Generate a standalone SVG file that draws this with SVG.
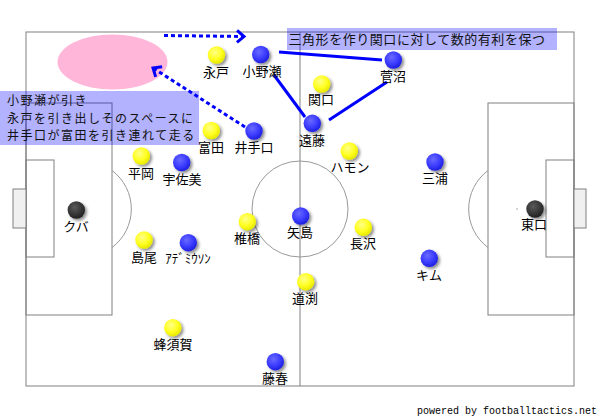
<svg xmlns="http://www.w3.org/2000/svg" width="600" height="417" viewBox="0 0 600 417">
<defs>
<style>
.pitch{fill:none;stroke:#808080;stroke-width:1}
.arc{fill:none;stroke:#999;stroke-width:1}
.goal{fill:#f0f0f0;stroke:#808080;stroke-width:1}
.lbl{font-family:"Noto Sans CJK JP","Noto Sans",sans-serif;font-size:13px;fill:#000;text-anchor:middle}
.note{font-family:"Noto Sans CJK JP","Noto Sans",sans-serif;font-size:13px;letter-spacing:0.55px;fill:#111}
.note2{font-family:"Noto Sans CJK JP","Noto Sans",sans-serif;font-size:12px;letter-spacing:1.5px;fill:#111}
.box{fill:#0000ff;fill-opacity:0.3}
.y{fill:url(#gy);filter:url(#sh)}
.b{fill:url(#gb);filter:url(#sh)}
.k{fill:url(#gk);filter:url(#sh)}
.solid{fill:none;stroke:#0000ff;stroke-width:3}
.dash{fill:none;stroke:#0000ff;stroke-width:3;stroke-dasharray:4 3}
</style>
<radialGradient id="gy" cx="0.4" cy="0.35" r="0.65">
<stop offset="0" stop-color="#ffff88"/><stop offset="0.6" stop-color="#ffff22"/><stop offset="1" stop-color="#e8e800"/>
</radialGradient>
<radialGradient id="gb" cx="0.4" cy="0.35" r="0.65">
<stop offset="0" stop-color="#6a6aff"/><stop offset="0.6" stop-color="#3c3cff"/><stop offset="1" stop-color="#2020e0"/>
</radialGradient>
<radialGradient id="gk" cx="0.4" cy="0.35" r="0.65">
<stop offset="0" stop-color="#5a5a5a"/><stop offset="0.6" stop-color="#383838"/><stop offset="1" stop-color="#222"/>
</radialGradient>
<filter id="sh" x="-50%" y="-50%" width="200%" height="200%">
<feDropShadow dx="2" dy="2" stdDeviation="1.5" flood-color="#000" flood-opacity="0.45"/>
</filter>
<marker id="chev" markerUnits="userSpaceOnUse" markerWidth="14" markerHeight="16" refX="11" refY="8" orient="auto">
<path d="M4,2 L11,8 L4,14" fill="none" stroke="#0000ff" stroke-width="3" stroke-dasharray="none"/>
</marker>
</defs>
<rect width="600" height="417" fill="#fff"/>
<g id="pitch">
<rect class="pitch" x="26" y="32" width="548" height="354"/>
<line class="pitch" x1="300" y1="32" x2="300" y2="386"/>
<circle class="arc" cx="300" cy="209" r="48"/>
<rect class="pitch" x="26" y="103" width="86" height="212"/>
<rect class="pitch" x="488" y="103" width="86" height="212"/>
<rect class="pitch" x="26" y="160" width="28" height="97"/>
<rect class="pitch" x="546" y="160" width="28" height="97"/>
<rect class="goal" x="13" y="189" width="13" height="39"/>
<rect class="goal" x="574" y="189" width="12" height="39"/>
<path class="arc" d="M112,170.5 A48,48 0 0 1 112,247.5"/>
<path class="arc" d="M488,170.5 A48,48 0 0 0 488,247.5"/>
<circle cx="83" cy="209" r="0.8" fill="#999"/>
<circle cx="517" cy="209" r="0.8" fill="#999"/>
</g>
<ellipse id="space" cx="112.5" cy="62" rx="55" ry="27.5" fill="#ffb6d9"/>
<g id="connectors">
<path class="dash" d="M164,35.5 L244,36.5" marker-end="url(#chev)"/>
<path class="dash" d="M245,127 L153,68" marker-end="url(#chev)"/>
<path class="solid" d="M274,75 L305,117"/>
<path class="solid" d="M279,52 L382,60"/>
<path class="solid" d="M387,82 L329,120"/>
</g>
<g id="p-nagato"><circle class="y" cx="216.5" cy="55" r="8.7"/><text class="lbl" x="216" y="77">永戸</text></g>
<g id="p-onose"><circle class="b" cx="260.7" cy="54.5" r="8.7"/><text class="lbl" x="262" y="76">小野瀬</text></g>
<g id="p-suganuma"><circle class="b" cx="393.3" cy="60" r="8.7"/><text class="lbl" x="393" y="81">菅沼</text></g>
<g id="p-sekiguchi"><circle class="y" cx="321.7" cy="84" r="8.7"/><text class="lbl" x="321" y="104">関口</text></g>
<g id="p-endo"><circle class="b" cx="312.3" cy="123.3" r="8.7"/><text class="lbl" x="312" y="145">遠藤</text></g>
<g id="p-tomita"><circle class="y" cx="211.3" cy="130.5" r="8.7"/><text class="lbl" x="211" y="152">富田</text></g>
<g id="p-ideguchi"><circle class="b" cx="254" cy="131" r="8.7"/><text class="lbl" x="254" y="152">井手口</text></g>
<g id="p-hiraoka"><circle class="y" cx="141.3" cy="156" r="8.7"/><text class="lbl" x="141" y="178">平岡</text></g>
<g id="p-usami"><circle class="b" cx="181.7" cy="162.5" r="8.7"/><text class="lbl" x="182" y="184">宇佐美</text></g>
<g id="p-hamon"><circle class="y" cx="349.3" cy="151" r="8.7"/><text class="lbl" x="350" y="172">ハモン</text></g>
<g id="p-miura"><circle class="b" cx="435" cy="162" r="8.7"/><text class="lbl" x="435" y="183">三浦</text></g>
<g id="p-kuba"><circle class="k" cx="76.3" cy="210" r="8.7"/><text class="lbl" x="76" y="231">クバ</text></g>
<g id="p-yajima"><circle class="b" cx="300.7" cy="216" r="8.7"/><text class="lbl" x="300" y="237">矢島</text></g>
<g id="p-higashiguchi"><circle class="k" cx="535" cy="209" r="8.7"/><text class="lbl" x="534" y="229">東口</text></g>
<g id="p-shiihashi"><circle class="y" cx="247.3" cy="221.7" r="8.7"/><text class="lbl" x="247" y="243">椎橋</text></g>
<g id="p-nagasawa"><circle class="y" cx="363.3" cy="227.3" r="8.7"/><text class="lbl" x="363" y="248">長沢</text></g>
<g id="p-shimao"><circle class="y" cx="144" cy="240" r="8.7"/><text class="lbl" x="144" y="262">島尾</text></g>
<g id="p-ademilson"><circle class="b" cx="188.3" cy="242.7" r="8.7"/><text class="lbl" x="188" y="263">ｱﾃﾞﾐｳｿﾝ</text></g>
<g id="p-kim"><circle class="b" cx="429.3" cy="258.3" r="8.7"/><text class="lbl" x="429" y="280">キム</text></g>
<g id="p-michibuchi"><circle class="y" cx="305.7" cy="281.7" r="8.7"/><text class="lbl" x="305" y="303">道渕</text></g>
<g id="p-hachisuka"><circle class="y" cx="172.8" cy="327.7" r="8.7"/><text class="lbl" x="173" y="349">蜂須賀</text></g>
<g id="p-fujiharu"><circle class="b" cx="275.3" cy="361.7" r="8.7"/><text class="lbl" x="275" y="383">藤春</text></g>
<g id="note-left">
<rect class="box" x="0" y="91" width="199" height="54"/>
<text class="note2" x="7" y="105">小野瀬が引き</text>
<text class="note2" x="7" y="122.5">永戸を引き出しそのスペースに</text>
<text class="note2" x="7" y="140">井手口が富田を引き連れて走る</text>
</g>
<g id="note-top">
<rect class="box" x="287" y="28" width="270" height="22"/>
<text class="note" x="288.5" y="44">三角形を作り関口に対して数的有利を保つ</text>
</g>
<text x="597" y="414" text-anchor="end" font-family="Liberation Mono, monospace" font-size="10" fill="#000">powered by footballtactics.net</text>
</svg>
